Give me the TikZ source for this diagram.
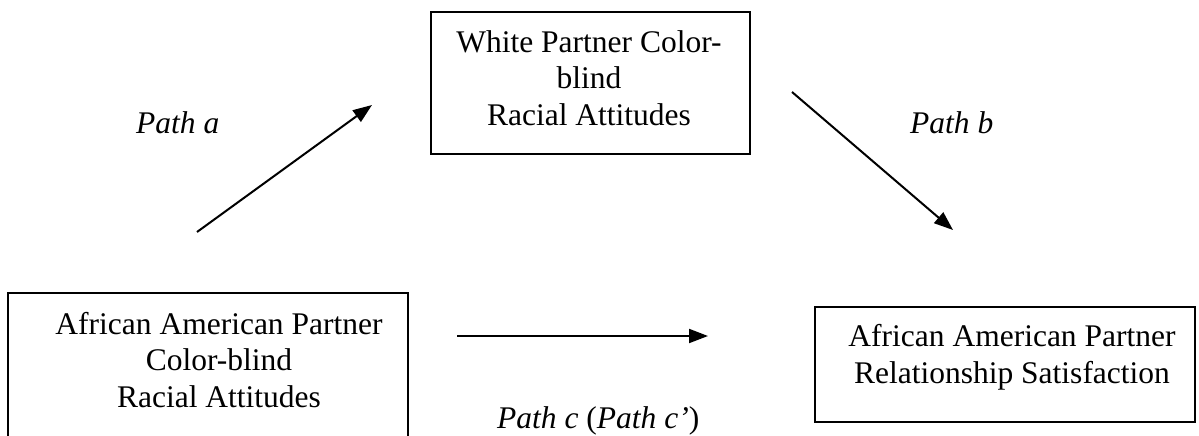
\documentclass[tikz,border=0pt]{standalone}
\usepackage{fontspec}
\setmainfont{Liberation Serif}
\usetikzlibrary{arrows.meta}
\begin{document}
\begin{tikzpicture}[x=1pt,y=-1pt,
  box/.style={draw=black,line width=1.5pt,inner sep=0pt,rectangle},
  lbl/.style={inner sep=0pt,align=center,font=\fontsize{31.5}{36.5}\selectfont},
  pathlbl/.style={inner sep=0pt,font=\fontsize{31.5}{36.5}\selectfont\itshape},
  arr/.style={line width=2pt,-{Triangle[length=19pt,width=14pt]}}]
\useasboundingbox (0,0) rectangle (1199,436);
\clip (0,0) rectangle (1199,436);
% boxes
\node[box,minimum width=400pt,minimum height=200pt] (L) at (208,393) {};
\node[box,minimum width=319pt,minimum height=142pt] (T) at (590.5,83) {};
\node[box,minimum width=380pt,minimum height=115pt] (R) at (1005,364.5) {};
% texts (base anchor = baseline of last line)
\node[lbl,anchor=base] (Ltext) at (219,407) {African American Partner\\Color-blind\\Racial Attitudes};
\node[lbl,anchor=base] (Ttext) at (589,125) {White Partner Color-\\blind\\Racial Attitudes};
\node[lbl,anchor=base] (Rtext) at (1012,383) {African American Partner\\Relationship Satisfaction};
\node[pathlbl,anchor=base west] (pa) at (136,133) {Path a};
\node[pathlbl,anchor=base west] (pb) at (910,133) {Path b};
\node[pathlbl,anchor=base west] (pc) at (497,428) {Path c \upshape(\itshape Path c’\upshape)};
% connector ends
\coordinate (a1) at (197,232);
\coordinate (a2) at (372,105);
\coordinate (b1) at (792,92);
\coordinate (b2) at (953,230);
\coordinate (c1) at (457,336);
\coordinate (c2) at (708,336);
\draw[arr] (a1) -- (a2);
\draw[arr] (b1) -- (b2);
\draw[arr] (c1) -- (c2);
\end{tikzpicture}
\end{document}
